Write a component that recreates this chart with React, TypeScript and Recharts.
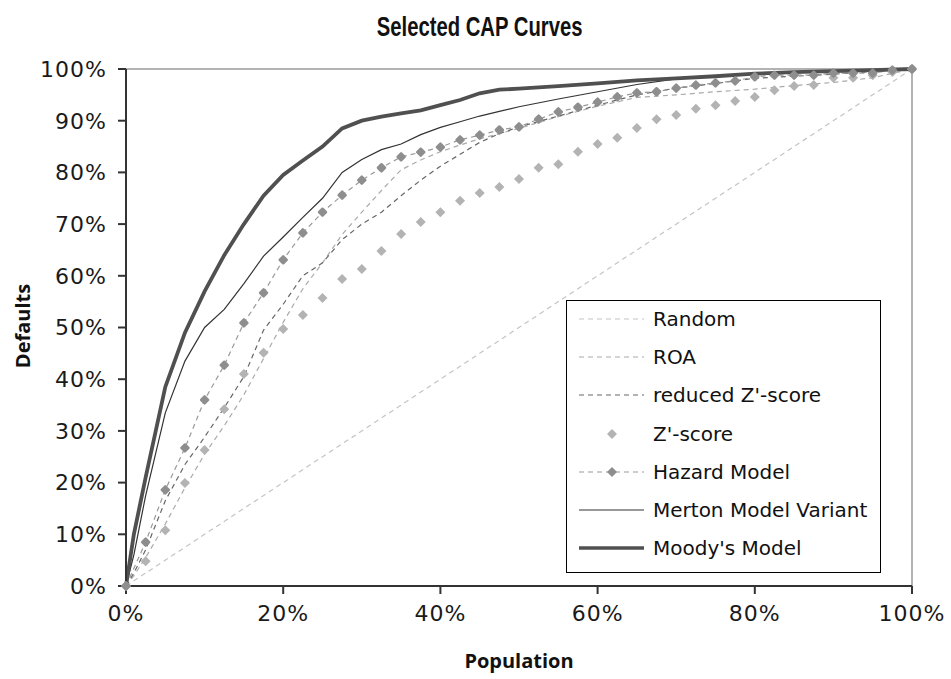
import { FC } from 'react';
import { LineChart, Line, XAxis, YAxis, ReferenceLine } from 'recharts';

// population share (x) used by the continuous curves
const linePop = [0, 1, 2.5, 5, 7.5, 10, 12.5, 15, 17.5, 20, 22.5, 25, 27.5, 30, 32.5, 35, 37.5, 40, 42.5, 45, 47.5, 50, 55, 60, 65, 70, 75, 80, 85, 90, 95, 100];
// population share (x) used by the marker series
const markerPop = [0, 2.5, 5, 7.5, 10, 12.5, 15, 17.5, 20, 22.5, 25, 27.5, 30, 32.5, 35, 37.5, 40, 42.5, 45, 47.5, 50, 52.5, 55, 57.5, 60, 62.5, 65, 67.5, 70, 72.5, 75, 77.5, 80, 82.5, 85, 87.5, 90, 92.5, 95, 97.5, 100];

const randomPop = [0, 100];
const randomVals = [0, 100];
const roaVals = [0, 2, 5.5, 12, 19, 25.5, 31, 37, 44, 51, 57.5, 62.5, 68, 72.3, 76.5, 80.5, 82.4, 84, 85.3, 86.5, 87.5, 88.5, 90.8, 92.8, 94.5, 95, 95.6, 96.1, 96.8, 97.4, 98.3, 100];
const reducedZVals = [0, 2.5, 7, 16.5, 23.5, 28.8, 34.5, 40.5, 49.5, 54.5, 60, 62.5, 67, 70, 72.3, 75.5, 78.5, 81.2, 83.5, 85.8, 87.5, 88.8, 90.9, 93, 95, 96.3, 97.2, 98.2, 98.6, 99, 99.5, 100];
const zScoreVals = [0, 4.8, 10.8, 19.9, 26.3, 34.2, 41, 45.1, 49.7, 52.4, 55.7, 59.4, 61.3, 64.8, 68.1, 70.4, 72.3, 74.5, 76, 77.2, 78.7, 80.9, 81.6, 84, 85.5, 86.7, 88.6, 90.3, 91.1, 92.3, 93, 93.8, 94.6, 95.9, 96.7, 96.9, 98.3, 98.3, 98.8, 99.4, 100];
const hazardVals = [0, 8.5, 18.6, 26.7, 36, 42.7, 50.9, 56.7, 63.1, 68.3, 72.3, 75.6, 78.5, 80.9, 83, 83.9, 84.9, 86.3, 87.2, 88.2, 88.8, 90.3, 91.7, 92.6, 93.6, 94.6, 95.4, 95.6, 96.3, 96.9, 97.3, 97.7, 98.5, 98.8, 98.8, 98.8, 99.2, 99.2, 99.2, 99.8, 100];
const mertonVals = [0, 6, 17.5, 33.5, 43.5, 50, 53.5, 58.5, 63.8, 67.5, 71.3, 75, 80, 82.5, 84.4, 85.5, 87.3, 88.7, 89.8, 90.9, 91.8, 92.7, 94.2, 95.6, 97, 98.1, 98.6, 99.1, 99.4, 99.6, 99.8, 100];
const moodysVals = [0, 10, 21, 38.5, 49, 57, 64, 70, 75.5, 79.5, 82.3, 85, 88.5, 90, 90.8, 91.4, 92, 93, 94, 95.3, 96, 96.2, 96.7, 97.2, 97.8, 98.2, 98.6, 99.1, 99.4, 99.6, 99.8, 100];

const yTicks = [0, 10, 20, 30, 40, 50, 60, 70, 80, 90, 100];
const xTicks = [0, 20, 40, 60, 80, 100];

const toPoints = (xs: number[], ys: number[]) => xs.map((x, i) => ({ x, y: ys[i] }));

const diamondDot = (color: string, r: number, round: boolean) => (props: any) => {
  const { cx, cy, index } = props;
  if (cx == null || cy == null) return <g key={`e-${index}`} />;
  return (
    <path
      key={`d-${color}-${index}`}
      d={`M${cx},${cy - r}L${cx + r},${cy}L${cx},${cy + r}L${cx - r},${cy}Z`}
      fill={color}
      stroke={round ? color : 'none'}
      strokeWidth={round ? 2.5 : 0}
      strokeLinejoin="round"
    />
  );
};

const ZCOLOR = '#b3b3b3';
const HCOLOR = '#8e8e8e';

const legendItems = [
  { name: 'Random', stroke: '#c4c4c4', width: 1.2, dash: '5 4', marker: null },
  { name: 'ROA', stroke: '#aaaaaa', width: 1.2, dash: '5 4', marker: null },
  { name: "reduced Z'-score", stroke: '#666666', width: 1.2, dash: '5 4', marker: null },
  { name: "Z'-score", stroke: 'none', width: 0, dash: undefined, marker: ZCOLOR },
  { name: 'Hazard Model', stroke: '#9a9a9a', width: 1.2, dash: '5 4', marker: HCOLOR },
  { name: 'Merton Model Variant', stroke: '#333333', width: 1.2, dash: undefined, marker: null },
  { name: "Moody's Model", stroke: '#505050', width: 3.5, dash: undefined, marker: null },
];

const tickFont = { fontFamily: '"DejaVu Sans", sans-serif', fontSize: 22, fill: '#1a1a1a', letterSpacing: 1 };

const CapLegend: FC = () => (
  <div
    style={{
      position: 'absolute',
      left: 566,
      top: 300,
      width: 315,
      height: 273,
      boxSizing: 'border-box',
      border: '1.5px solid #000',
      background: '#fff',
      fontFamily: '"DejaVu Sans", sans-serif',
      fontSize: 20,
      color: '#111',
    }}
  >
    {legendItems.map((it, i) => (
      <div key={it.name} style={{ position: 'absolute', left: 0, top: 18 + i * 38.2 - 14, height: 28, width: 313 }}>
        <svg width={68} height={28} style={{ position: 'absolute', left: 11, top: 0 }}>
          {it.stroke !== 'none' && (
            <line x1={1} y1={14} x2={66} y2={14} stroke={it.stroke} strokeWidth={it.width} strokeDasharray={it.dash} />
          )}
          {it.marker && (
            <path d="M34,10L38,14L34,18L30,14Z" fill={it.marker} stroke={it.marker} strokeWidth={1.5} strokeLinejoin="round" />
          )}
        </svg>
        <span style={{ position: 'absolute', left: 86, top: 2, whiteSpace: 'nowrap', lineHeight: '24px' }}>{it.name}</span>
      </div>
    ))}
  </div>
);

export default function App() {
  return (
    <div style={{ position: 'absolute', left: 0, top: 0, width: 951, height: 679, background: '#fff' }}>
      <div
        style={{
          position: 'absolute',
          left: 0,
          width: 951,
          top: 12,
          textAlign: 'center',
          fontFamily: '"Liberation Sans", Arial, sans-serif',
          fontWeight: 'bold',
          fontSize: 27,
          color: '#111',
          transform: 'scaleX(0.75)',
          transformOrigin: '480px 0',
        }}
      >
        <span style={{ position: 'relative', left: 4 }}>Selected CAP Curves</span>
      </div>
      <LineChart width={951} height={679} margin={{ top: 69, right: 39, bottom: 43, left: 36 }}>
        <XAxis
          dataKey="x"
          type="number"
          domain={[0, 100]}
          ticks={xTicks}
          tickFormatter={(v: number) => `${v}%`}
          height={50}
          tickSize={8}
          tickMargin={11}
          axisLine={{ stroke: '#333', strokeWidth: 2 }}
          tickLine={{ stroke: '#333', strokeWidth: 2 }}
          tick={tickFont}
          allowDuplicatedCategory={false}
        />
        <YAxis
          type="number"
          domain={[0, 100]}
          ticks={yTicks}
          tickFormatter={(v: number) => `${v}%`}
          width={90}
          tickSize={8}
          tickMargin={11}
          axisLine={{ stroke: '#333', strokeWidth: 2 }}
          tickLine={{ stroke: '#333', strokeWidth: 2 }}
          tick={tickFont}
        />
        <ReferenceLine y={100} stroke="#9a9a9a" strokeWidth={1.5} />
        <ReferenceLine x={100} stroke="#9a9a9a" strokeWidth={1.5} />
        <Line data={toPoints(randomPop, randomVals)} dataKey="y" name="Random" stroke="#c4c4c4" strokeWidth={1.2} strokeDasharray="5 4" dot={false} activeDot={false} isAnimationActive={false} />
        <Line data={toPoints(linePop, roaVals)} dataKey="y" name="ROA" stroke="#aaaaaa" strokeWidth={1.2} strokeDasharray="5 4" dot={false} activeDot={false} isAnimationActive={false} />
        <Line data={toPoints(linePop, reducedZVals)} dataKey="y" name="reduced Z'-score" stroke="#666666" strokeWidth={1.2} strokeDasharray="5 4" dot={false} activeDot={false} isAnimationActive={false} />
        <Line data={toPoints(markerPop, zScoreVals)} dataKey="y" name="Z'-score" stroke="none" dot={diamondDot(ZCOLOR, 5, false)} activeDot={false} isAnimationActive={false} />
        <Line data={toPoints(markerPop, hazardVals)} dataKey="y" name="Hazard Model" stroke="#9a9a9a" strokeWidth={1.2} strokeDasharray="5 4" dot={diamondDot(HCOLOR, 3.5, true)} activeDot={false} isAnimationActive={false} />
        <Line data={toPoints(linePop, mertonVals)} dataKey="y" name="Merton Model Variant" stroke="#333333" strokeWidth={1.2} dot={false} activeDot={false} isAnimationActive={false} />
        <Line data={toPoints(linePop, moodysVals)} dataKey="y" name="Moody's Model" stroke="#505050" strokeWidth={3.8} dot={false} activeDot={false} isAnimationActive={false} />
      </LineChart>
      <CapLegend />
      <div
        style={{
          position: 'absolute',
          left: 22,
          top: 326,
          transform: 'translate(-50%, -50%) rotate(-90deg)',
          fontFamily: '"Open Sans", sans-serif',
          fontWeight: 'bold',
          fontSize: 20,
          color: '#111',
          whiteSpace: 'nowrap',
        }}
      >
        Defaults
      </div>
      <div
        style={{
          position: 'absolute',
          left: 519,
          top: 660,
          transform: 'translate(-50%, -50%)',
          fontFamily: '"Open Sans", sans-serif',
          fontWeight: 'bold',
          fontSize: 20,
          color: '#111',
          whiteSpace: 'nowrap',
        }}
      >
        Population
      </div>
    </div>
  );
}
